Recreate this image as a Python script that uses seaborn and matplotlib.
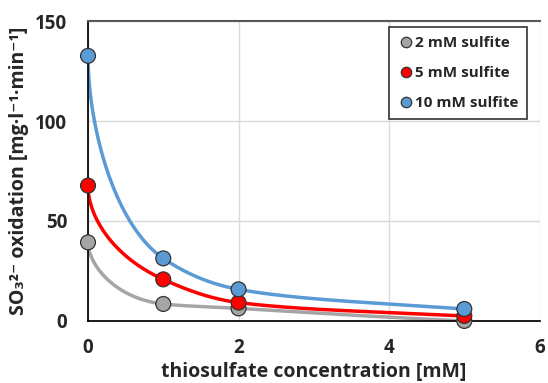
import numpy as np
import pandas as pd
import matplotlib
matplotlib.use("Agg")
import matplotlib.pyplot as plt
import seaborn as sns

thiosulfate = [0, 1, 2, 5]
series_names = ["2 mM sulfite", "5 mM sulfite", "10 mM sulfite"]
sulfite_2mM = [39.3, 8.5, 6.3, 0.0]
sulfite_5mM = [67.7, 20.8, 9.2, 2.5]
sulfite_10mM = [132.6, 31.3, 15.8, 6.0]
colors = ["#A5A5A5", "#FF0000", "#5B9BD5"]

sns.set_theme(style="white")
plt.rcParams['font.family'] = ['Open Sans', 'DejaVu Sans']
plt.rcParams['font.weight'] = 'bold'


def pchip(xk, yk, xs):
    xk = np.asarray(xk, float); yk = np.asarray(yk, float)
    h = np.diff(xk); d = np.diff(yk) / h
    n = len(xk); m = np.zeros(n)
    for k in range(1, n - 1):
        if d[k - 1] * d[k] > 0:
            w1 = 2 * h[k] + h[k - 1]; w2 = h[k] + 2 * h[k - 1]
            m[k] = (w1 + w2) / (w1 / d[k - 1] + w2 / d[k])
    m[0] = d[0]
    m[-1] = d[-1]
    out = np.empty_like(xs)
    for i, x in enumerate(xs):
        k = min(np.searchsorted(xk, x, side='right') - 1, n - 2)
        t = (x - xk[k]) / h[k]
        h00 = 2 * t**3 - 3 * t**2 + 1; h10 = t**3 - 2 * t**2 + t
        h01 = -2 * t**3 + 3 * t**2; h11 = t**3 - t**2
        out[i] = h00 * yk[k] + h10 * h[k] * m[k] + h01 * yk[k + 1] + h11 * h[k] * m[k + 1]
    return out


rows = []
curves = []
for name, vals in zip(series_names, [sulfite_2mM, sulfite_5mM, sulfite_10mM]):
    for x, y in zip(thiosulfate, vals):
        rows.append({"x": x, "y": y, "series": name})
    # smooth trend line drawn in sqrt(x) space
    s = np.linspace(0, np.sqrt(max(thiosulfate)), 300)
    ys = pchip(np.sqrt(thiosulfate), vals, s)
    curves.append(pd.DataFrame({"x": s**2, "y": ys, "series": name}))
df = pd.DataFrame(rows)
cdf = pd.concat(curves)

fig = plt.figure(figsize=(5.48, 3.83), dpi=100)
ax = fig.add_axes([0.1606, 0.162, 0.824, 0.783])

pal = dict(zip(series_names, colors))
sns.lineplot(data=cdf, x="x", y="y", hue="series", palette=pal, lw=2.5,
             legend=False, ax=ax, zorder=2, sort=False, estimator=None)
sns.scatterplot(data=df, x="x", y="y", hue="series", palette=pal, s=115,
                edgecolor="#333333", linewidth=0.9, ax=ax, zorder=3, clip_on=False)

ax.set_xlim(0, 6)
ax.set_ylim(0, 150)
ax.set_xticks([0, 2, 4, 6])
ax.set_yticks([0, 50, 100, 150])
ax.grid(True, color="#D9D9D9", lw=1)
ax.set_axisbelow(True)
ax.spines["right"].set_visible(False)
ax.spines["top"].set_color("#595959")
ax.spines["top"].set_linewidth(1.5)
ax.spines["left"].set_color("black")
ax.spines["bottom"].set_color("black")
ax.tick_params(axis='x', labelsize=13.5, length=0, pad=12)
ax.tick_params(axis='y', labelsize=13.5, length=0, pad=15)
for lab in ax.get_xticklabels() + ax.get_yticklabels():
    lab.set_fontweight('bold')

ax.set_xlabel("thiosulfate concentration [mM]", fontsize=14, fontweight='bold', labelpad=3)
ax.set_ylabel("SO₃²⁻ oxidation [mg·l⁻¹·min⁻¹]", fontsize=14, fontweight='bold', labelpad=4)

leg = ax.legend(loc="upper right", bbox_to_anchor=(0.973, 0.98), frameon=True, fancybox=False,
                edgecolor="black", fontsize=11, handletextpad=0.1, borderpad=0.6,
                labelspacing=1.05, markerscale=0.7, handlelength=1.0, borderaxespad=0)
leg.get_frame().set_linewidth(1.2)
for t in leg.get_texts():
    t.set_fontweight('bold')

fig.savefig("out.png", dpi=100)
